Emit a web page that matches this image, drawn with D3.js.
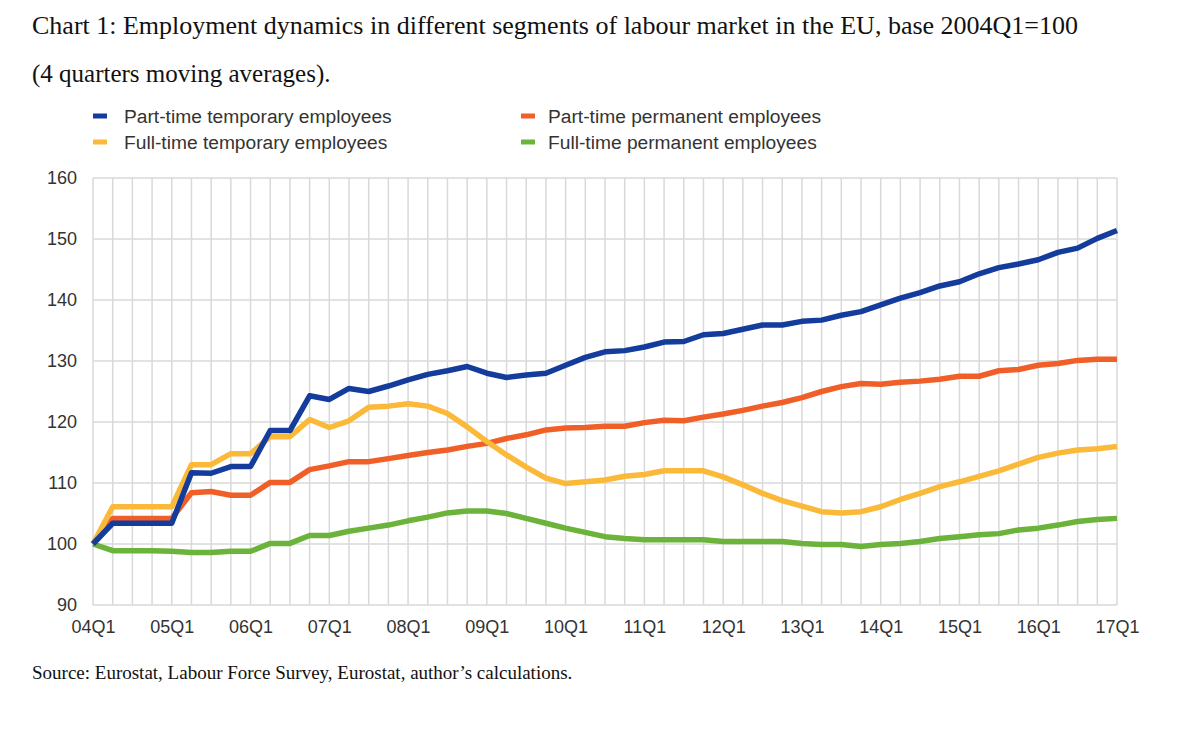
<!DOCTYPE html>
<html>
<head>
<meta charset="utf-8">
<script src="https://cdn.jsdelivr.net/npm/d3@7"></script>
<style>
  html, body { margin: 0; padding: 0; background: #fff; }
  svg { display: block; }
</style>
</head>
<body>
<svg id="chart" width="1200" height="730"></svg>
<script>
const quarters = [
  "04Q1","04Q2","04Q3","04Q4","05Q1","05Q2","05Q3","05Q4",
  "06Q1","06Q2","06Q3","06Q4","07Q1","07Q2","07Q3","07Q4",
  "08Q1","08Q2","08Q3","08Q4","09Q1","09Q2","09Q3","09Q4",
  "10Q1","10Q2","10Q3","10Q4","11Q1","11Q2","11Q3","11Q4",
  "12Q1","12Q2","12Q3","12Q4","13Q1","13Q2","13Q3","13Q4",
  "14Q1","14Q2","14Q3","14Q4","15Q1","15Q2","15Q3","15Q4",
  "16Q1","16Q2","16Q3","16Q4","17Q1"
];
const xTickLabels = ["04Q1","05Q1","06Q1","07Q1","08Q1","09Q1","10Q1","11Q1","12Q1","13Q1","14Q1","15Q1","16Q1","17Q1"];
const yTicks = [90, 100, 110, 120, 130, 140, 150, 160];

const partTimeTemporary = [
  100, 103.4, 103.4, 103.4, 103.4, 111.7, 111.6, 112.7,
  112.7, 118.6, 118.6, 124.3, 123.7, 125.5, 125.0, 125.9,
  126.9, 127.8, 128.4, 129.1, 128.0, 127.3, 127.7, 128.0,
  129.3, 130.6, 131.5, 131.7, 132.3, 133.1, 133.2, 134.3,
  134.5, 135.2, 135.9, 135.9, 136.5, 136.7, 137.5, 138.1,
  139.2, 140.3, 141.2, 142.3, 143.0, 144.3, 145.3, 145.9,
  146.6, 147.8, 148.5, 150.1, 151.4
];
const partTimePermanent = [
  100, 104.2, 104.2, 104.2, 104.2, 108.4, 108.6, 108.0,
  108.0, 110.1, 110.1, 112.2, 112.8, 113.5, 113.5, 114.0,
  114.5, 115.0, 115.4, 116.0, 116.5, 117.3, 117.9, 118.7,
  119.0, 119.1, 119.3, 119.3, 119.9, 120.3, 120.2, 120.8,
  121.3, 121.9, 122.6, 123.2, 124.0, 125.0, 125.8, 126.3,
  126.2, 126.5, 126.7, 127.0, 127.5, 127.5, 128.4, 128.6,
  129.3, 129.6, 130.1, 130.3, 130.3
];
const fullTimeTemporary = [
  100, 106.1, 106.1, 106.1, 106.1, 113.0, 113.0, 114.8,
  114.8, 117.6, 117.6, 120.4, 119.1, 120.2, 122.4, 122.6,
  123.0, 122.6, 121.4, 119.2, 116.8, 114.6, 112.6, 110.8,
  109.9, 110.2, 110.5, 111.1, 111.4, 112.0, 112.0, 112.0,
  111.0, 109.7, 108.3, 107.1, 106.2, 105.3, 105.1, 105.3,
  106.1, 107.3, 108.3, 109.4, 110.2, 111.1, 112.0, 113.1,
  114.2, 114.9, 115.4, 115.6, 116.0
];
const fullTimePermanent = [
  100, 98.9, 98.9, 98.9, 98.8, 98.6, 98.6, 98.8,
  98.8, 100.1, 100.1, 101.4, 101.4, 102.1, 102.6, 103.1,
  103.8, 104.4, 105.1, 105.4, 105.4, 105.0, 104.2, 103.4,
  102.6, 101.9, 101.2, 100.9, 100.7, 100.7, 100.7, 100.7,
  100.4, 100.4, 100.4, 100.4, 100.1, 99.9, 99.9, 99.6,
  99.9, 100.1, 100.4, 100.9, 101.2, 101.5, 101.7, 102.3,
  102.6, 103.1, 103.7, 104.0, 104.2
];

const seriesNames = [
  "Part-time temporary employees",
  "Part-time permanent employees",
  "Full-time temporary employees",
  "Full-time permanent employees"
];
const seriesColors = ["#143c9c", "#f05f28", "#fbb93a", "#6bb33a"];
const seriesValues = [partTimeTemporary, partTimePermanent, fullTimeTemporary, fullTimePermanent];

(function () {
const svg = d3.select("#chart");
const mLeft = 93, mRight = 1117, mTop = 178, mBottom = 605;

const x = d3.scalePoint().domain(quarters).range([mLeft, mRight]);
const y = d3.scaleLinear().domain([90, 160]).range([mBottom, mTop]);

// Title
svg.append("text").attr("x", 32).attr("y", 34)
  .attr("font-family", "Liberation Serif, Times New Roman, serif")
  .attr("font-size", 26).attr("fill", "#111")
  .text("Chart 1: Employment dynamics in different segments of labour market in the EU, base 2004Q1=100");
svg.append("text").attr("x", 32).attr("y", 82)
  .attr("font-family", "Liberation Serif, Times New Roman, serif")
  .attr("font-size", 25).attr("fill", "#111")
  .text("(4 quarters moving averages).");

// Gridlines
const grid = svg.append("g").attr("stroke", "#d9d9d9").attr("stroke-width", 1.5);
grid.selectAll("line.v").data(quarters).join("line")
  .attr("class", "v")
  .attr("x1", d => x(d)).attr("x2", d => x(d))
  .attr("y1", mTop).attr("y2", mBottom);
grid.selectAll("line.h").data(yTicks).join("line")
  .attr("class", "h")
  .attr("x1", mLeft).attr("x2", mRight)
  .attr("y1", d => y(d)).attr("y2", d => y(d));

// Axes
const yAxis = d3.axisLeft(y).tickValues(yTicks).tickSize(0).tickPadding(16);
const yG = svg.append("g").attr("transform", `translate(${mLeft},0)`).call(yAxis);
yG.select(".domain").remove();
yG.selectAll("text").attr("font-family", "Liberation Sans, Arial, sans-serif")
  .attr("font-size", 18).attr("fill", "#333");

const xAxis = d3.axisBottom(x).tickValues(xTickLabels).tickSize(0).tickPadding(15);
const xG = svg.append("g").attr("transform", `translate(0,${mBottom})`).call(xAxis);
xG.select(".domain").remove();
xG.selectAll("text").attr("font-family", "Liberation Sans, Arial, sans-serif")
  .attr("font-size", 18).attr("fill", "#333");

// Lines (draw order: green, orange, yellow, blue on top)
const line = d3.line().x((d, i) => x(quarters[i])).y(d => y(d));
const drawOrder = [3, 1, 2, 0];
drawOrder.forEach(k => {
  svg.append("path").datum(seriesValues[k])
    .attr("fill", "none")
    .attr("stroke", seriesColors[k])
    .attr("stroke-width", 5.5)
    .attr("stroke-linejoin", "round")
    .attr("stroke-linecap", "butt")
    .attr("d", line);
});

// Legend
const legendPos = [[93, 116], [521, 116], [93, 142], [521, 142]];
seriesNames.forEach((name, k) => {
  const [lx, ly] = legendPos[k];
  const g = svg.append("g").attr("transform", `translate(${lx},${ly})`);
  g.append("rect").attr("x", 0).attr("y", -2.5).attr("width", 14).attr("height", 5)
    .attr("fill", seriesColors[k]);
  g.append("text").attr("x", k % 2 === 1 ? 27 : 31).attr("y", 0).attr("dy", "0.35em")
    .attr("font-family", "Liberation Sans, Arial, sans-serif")
    .attr("font-size", 19.2).attr("fill", "#333")
    .text(name);
});

// Source
svg.append("text").attr("x", 32).attr("y", 679)
  .attr("font-family", "Liberation Serif, Times New Roman, serif")
  .attr("font-size", 19).attr("fill", "#111")
  .text("Source: Eurostat, Labour Force Survey, Eurostat, author\u2019s calculations.");
})();
</script>
</body>
</html>
